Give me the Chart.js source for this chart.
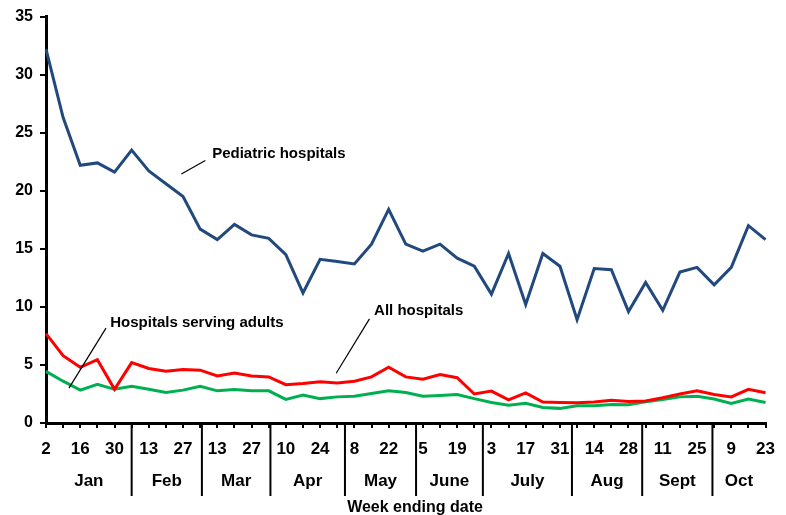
<!DOCTYPE html>
<html>
<head>
<meta charset="utf-8">
<script src="https://cdn.jsdelivr.net/npm/chart.js@4"></script>
<style>
  html, body { margin: 0; padding: 0; background: #fff; }
  #wrap { width: 786px; height: 515px; }
</style>
</head>
<body>
<div id="wrap"><canvas id="chart"></canvas></div>
<script>
// week ending day numbers, Jan 2 .. Oct 23
const weeks = ['2','9','16','23','30','6','13','20','27','6','13','20','27','3','10','17','24',
  '1','8','15','22','29','5','12','19','26','3','10','17','24','31','7','14','21','28',
  '4','11','18','25','2','9','16','23'];
const months = ['Jan','Feb','Mar','Apr','May','June','July','Aug','Sept','Oct'];
// where the month divider lines sit, in week-index units
const monthBreaks = [5.0, 9.1, 13.1, 17.45, 21.6, 25.5, 30.7, 34.8, 38.9];

const pediatric = [32.2,26.3,22.2,22.4,21.6,23.5,21.7,20.6,19.5,16.7,15.8,17.1,16.2,15.9,14.5,11.2,
  14.1,13.9,13.7,15.4,18.4,15.4,14.8,15.4,14.2,13.5,11.1,14.6,10.2,14.6,13.5,8.9,13.3,13.2,9.6,
  12.1,9.7,13.0,13.4,11.9,13.4,17.0,15.8];
const allHospitals = [7.7,5.8,4.8,5.45,2.9,5.2,4.7,4.45,4.6,4.55,4.05,4.3,4.05,3.97,3.3,3.4,3.55,
  3.45,3.6,3.97,4.8,3.97,3.77,4.17,3.9,2.5,2.75,2.0,2.6,1.8,1.77,1.75,1.8,1.95,1.86,1.9,2.17,2.5,
  2.77,2.45,2.25,2.9,2.6];
const adults = [4.45,3.6,2.83,3.34,2.9,3.17,2.9,2.63,2.83,3.17,2.77,2.89,2.77,2.77,2.03,2.4,2.1,
  2.25,2.3,2.54,2.77,2.63,2.3,2.37,2.46,2.1,1.77,1.54,1.69,1.34,1.26,1.48,1.48,1.6,1.57,1.83,2.03,
  2.25,2.3,2.06,1.69,2.06,1.77];

// labels with leader lines, in data units: [text, textX, textY, fromX, fromY, toX, toY]
const notes = [
  ['Pediatric hospitals', 9.7, 23.2, 9.3, 22.6, 7.9, 21.45],
  ['Hospitals serving adults', 3.75, 8.65, 3.5, 8.17, 1.34, 3.0],
  ['All hospitals', 19.15, 9.68, 18.88, 8.97, 16.94, 4.28]
];

const FONT = '"Liberation Sans", Arial, sans-serif';

// month separators, month names and axis title under the week ticks
const monthAxis = {
  id: 'monthAxis',
  afterDraw(chart) {
    const { ctx, chartArea } = chart;
    const x = chart.scales.x;
    const y0 = chartArea.bottom;
    ctx.save();
    ctx.strokeStyle = '#000';
    ctx.lineWidth = 2;
    const bounds = monthBreaks.map(i => x.getPixelForValue(i));
    bounds.forEach(px => {
      ctx.beginPath();
      ctx.moveTo(px, y0);
      ctx.lineTo(px, y0 + 73);
      ctx.stroke();
    });
    bounds.unshift(x.getPixelForValue(0));
    bounds.push(x.getPixelForValue(weeks.length - 1));
    ctx.fillStyle = '#000';
    ctx.font = 'bold 17px ' + FONT;
    ctx.textAlign = 'center';
    ctx.textBaseline = 'middle';
    months.forEach((m, i) => {
      ctx.fillText(m, (bounds[i] + bounds[i + 1]) / 2, y0 + 58);
    });
    ctx.font = 'bold 16px ' + FONT;
    ctx.fillText('Week ending date', 415, y0 + 85);
    ctx.restore();
  }
};

const callouts = {
  id: 'callouts',
  afterDatasetsDraw(chart) {
    const { ctx } = chart;
    const x = chart.scales.x, y = chart.scales.y;
    ctx.save();
    ctx.strokeStyle = '#000';
    ctx.lineWidth = 1.2;
    ctx.fillStyle = '#000';
    ctx.font = 'bold 15px ' + FONT;
    ctx.textBaseline = 'middle';
    notes.forEach(n => {
      ctx.fillText(n[0], x.getPixelForValue(n[1]), y.getPixelForValue(n[2]));
      ctx.beginPath();
      ctx.moveTo(x.getPixelForValue(n[3]), y.getPixelForValue(n[4]));
      ctx.lineTo(x.getPixelForValue(n[5]), y.getPixelForValue(n[6]));
      ctx.stroke();
    });
    ctx.restore();
  }
};

const line = (data, color) => ({
  data,
  borderColor: color,
  borderWidth: 3,
  pointRadius: 0,
  tension: 0,
  fill: false
});

new Chart(document.getElementById('chart'), {
  type: 'line',
  data: {
    labels: weeks,
    datasets: [
      line(pediatric, '#22497d'),
      line(allHospitals, '#ff0000'),
      line(adults, '#00b050')
    ]
  },
  options: {
    responsive: true,
    maintainAspectRatio: false,
    animation: false,
    layout: { padding: { top: 15, right: 20, left: 0, bottom: 0 } },
    plugins: { legend: { display: false }, tooltip: { enabled: false } },
    scales: {
      x: {
        offset: false,
        afterFit: s => { s.height = 92; },
        grid: { drawOnChartArea: false, color: '#000', lineWidth: 2, tickLength: 5 },
        border: { color: '#000', width: 3 },
        ticks: {
          autoSkip: false,
          maxRotation: 0,
          padding: 11,
          color: '#000',
          font: { family: FONT, size: 17, weight: 'bold' },
          callback: (v, i) => (i % 2 === 0 ? weeks[i] : '')
        }
      },
      y: {
        min: 0,
        max: 35,
        afterFit: s => { s.width = 46; },
        grid: { drawOnChartArea: false, color: '#000', lineWidth: 2, tickLength: 6 },
        border: { color: '#000', width: 3 },
        ticks: {
          stepSize: 5,
          padding: 7,
          color: '#000',
          font: { family: FONT, size: 16, weight: 'bold' }
        }
      }
    }
  },
  plugins: [monthAxis, callouts]
});
</script>
</body>
</html>
